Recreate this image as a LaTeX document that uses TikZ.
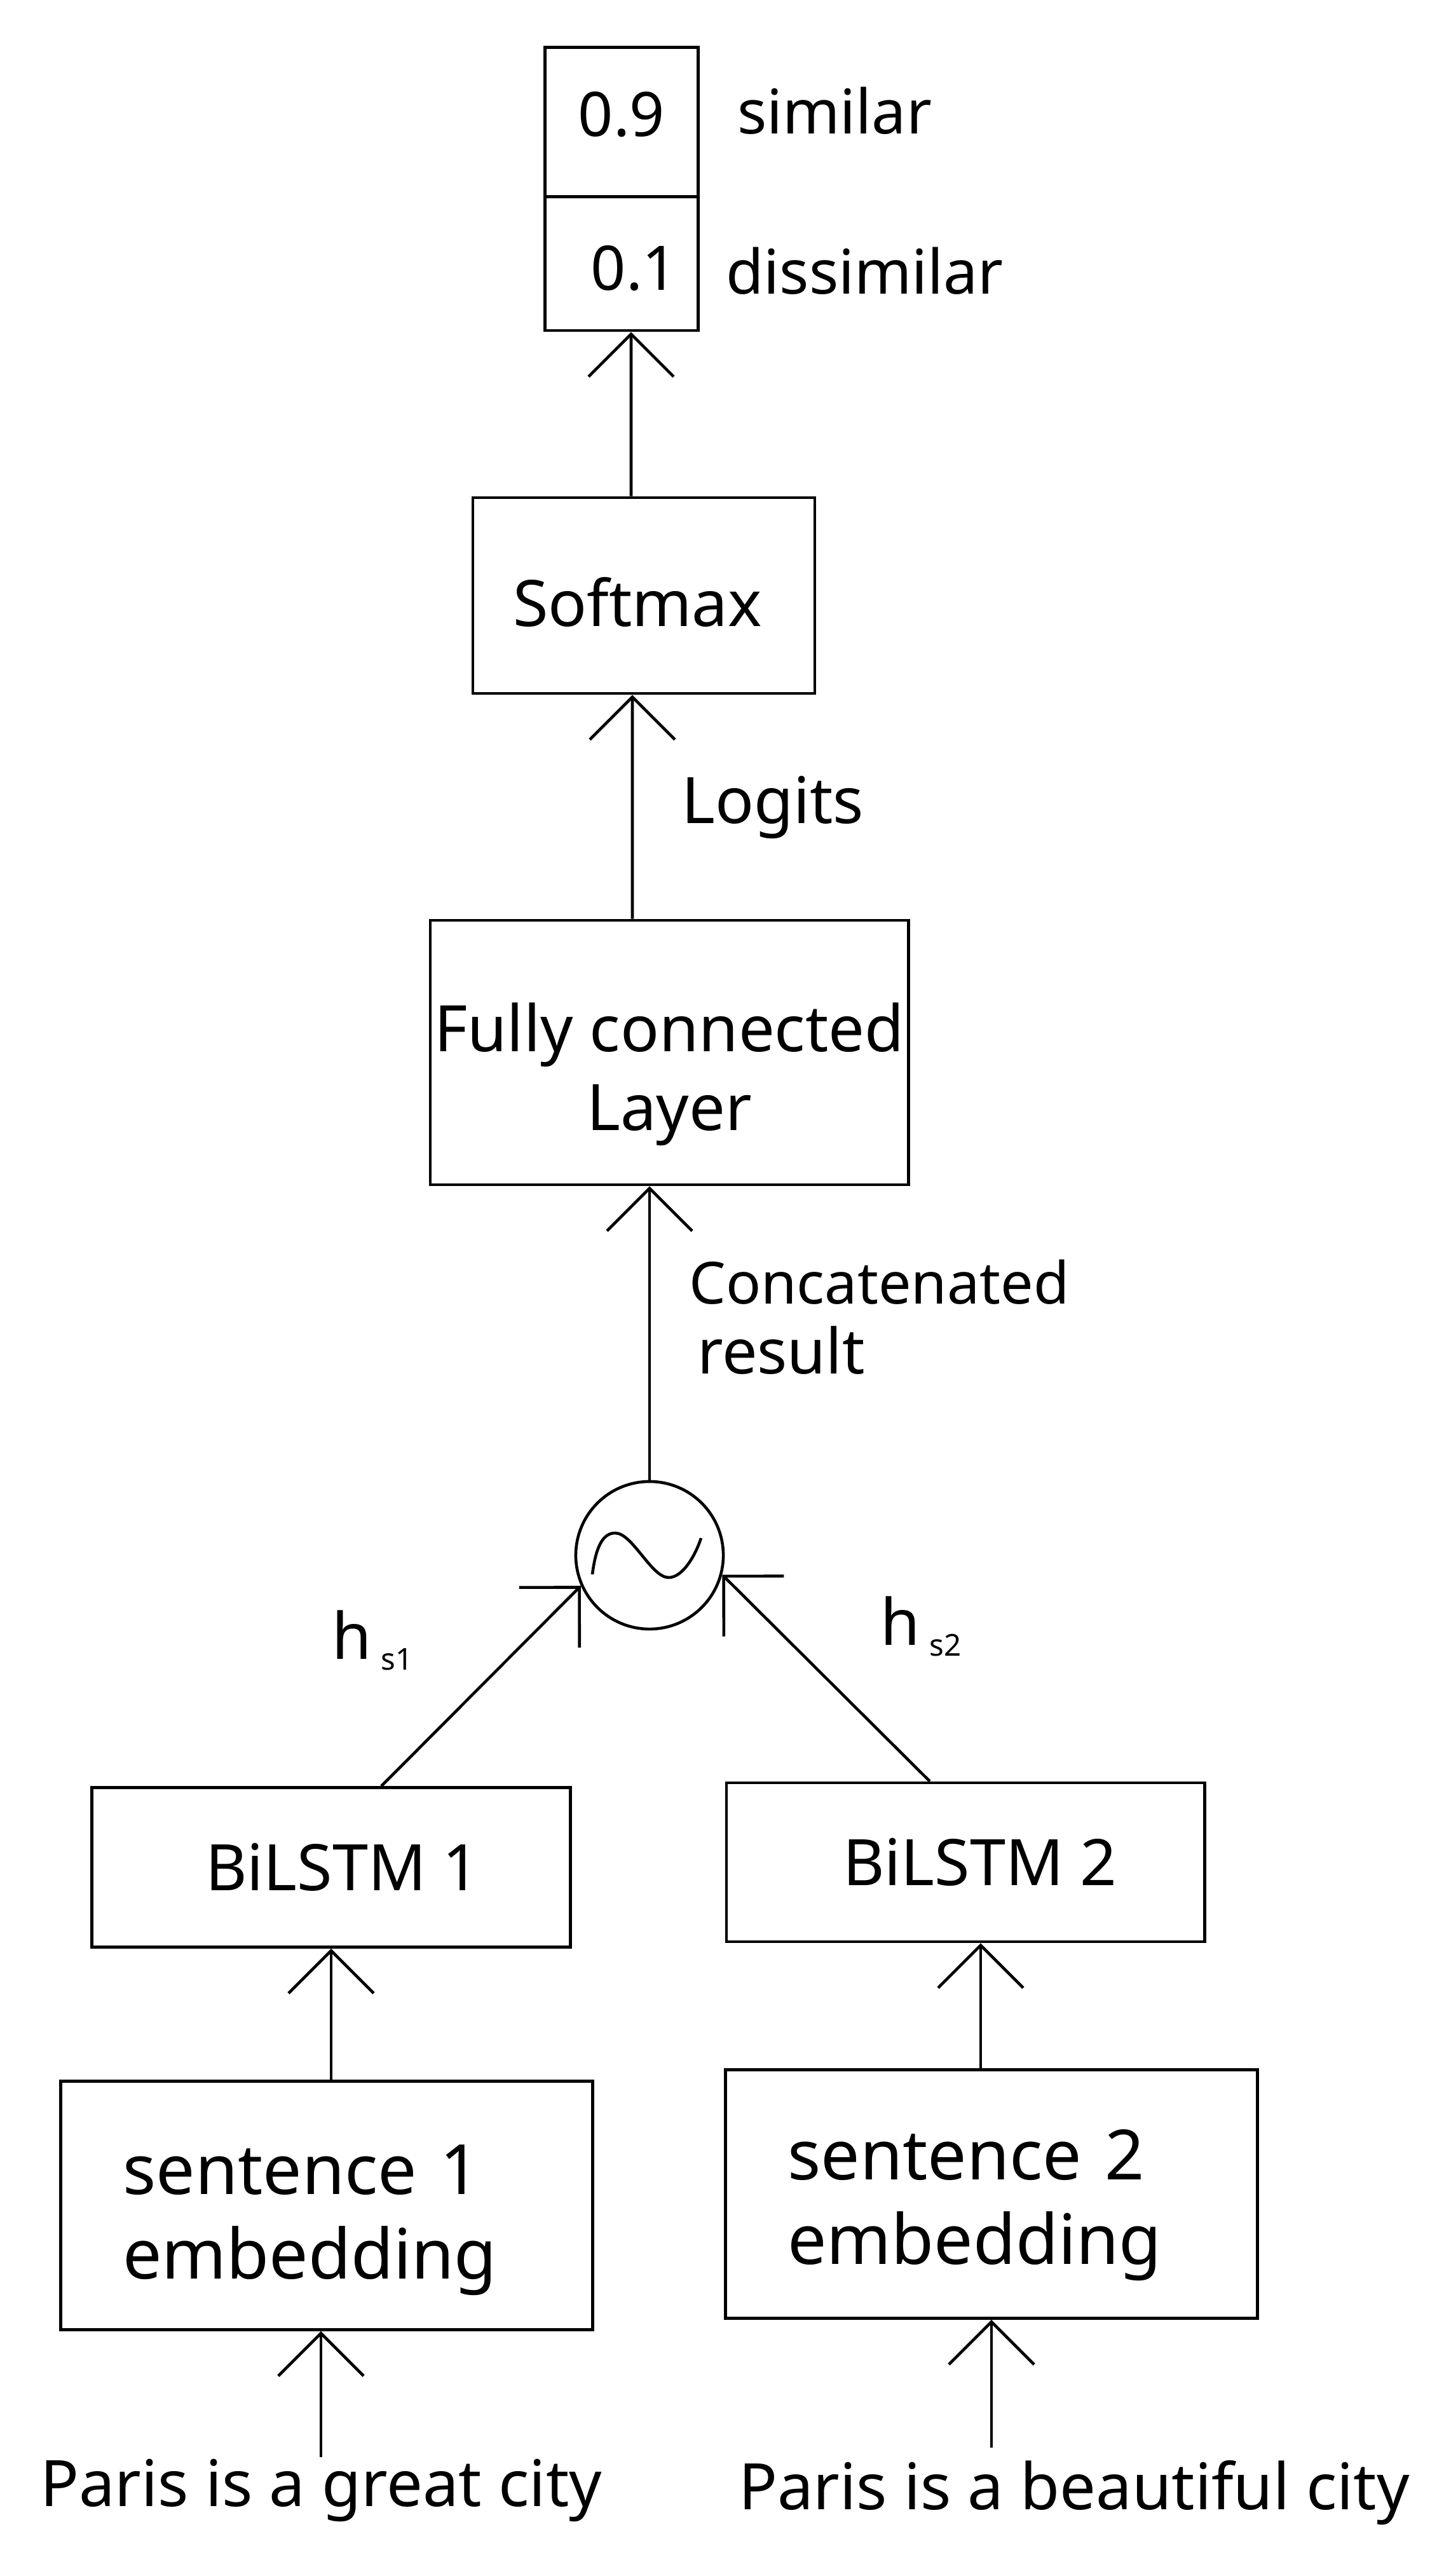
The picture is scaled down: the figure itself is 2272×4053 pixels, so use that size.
\documentclass[tikz,border=0pt]{standalone}
\usepackage{fontspec}
\setmainfont{Noto Sans}
\usetikzlibrary{arrows.meta,positioning}

\begin{document}
\begin{tikzpicture}[x=0.01cm, y=-0.01cm, line width=1.3pt,
  >={Straight Barb[length=6.7mm,width=13.4mm]},
  every node/.style={font=\fontsize{28.7pt}{35.3pt}\selectfont, inner sep=0pt},
  box/.style={draw},
  sent/.style={draw, align=left, text width=6.41cm, inner xsep=0.98cm,
    minimum height=3.91cm, font=\fontsize{31pt}{38pt}\selectfont},
  lbl/.style={anchor=base west},
  prob/.style={font=\fontsize{27.5pt}{33pt}\selectfont}]
  \useasboundingbox (0,0) rectangle (2272,4053);
  \node[box, prob, minimum width=2.41cm, minimum height=2.35cm] (p1) at (978,192) {\rule[-0.26cm]{0pt}{0.26cm}0.9};
  \node[box, prob, minimum width=2.41cm, minimum height=2.10cm] (p2) at (978,415) {\rule{0pt}{0.85cm}\hspace*{0.4cm}0.1};
  \node[lbl, prob] (sim) at (1158,210) {similar};
  \node[lbl, prob] (dis) at (1140,462) {dissimilar};
  \node[box, minimum width=5.38cm, minimum height=3.08cm] (soft) at (1013,937) {\rule{0pt}{0.97cm}Softmax\hspace*{0.2cm}};
  \node[box, align=center, minimum width=7.52cm, minimum height=4.16cm] (fc) at (1053,1656) {\rule{0pt}{1.45cm}Fully connected\\Layer};
  \node[draw, circle, minimum size=2.32cm] (mix) at (1022,2447) {};
  \draw (932,2477) .. controls (938,2430) and (950,2412) .. (968,2412)
    .. controls (995,2412) and (1025,2482) .. (1052,2482)
    .. controls (1075,2482) and (1095,2445) .. (1103,2420);
  \node[box, minimum width=7.52cm, minimum height=2.51cm] (bl1) at (521,2938) {\hspace*{0.36cm}BiLSTM 1};
  \node[box, minimum width=7.52cm, minimum height=2.50cm] (bl2) at (1519,2930) {\hspace*{0.46cm}BiLSTM 2};
  \node[sent] (s1) at (514,3470) {\rule{0pt}{1.24cm}sentence 1\\embedding};
  \node[sent] (s2) at (1560,3452) {\rule{0pt}{1.14cm}sentence 2\\embedding};
  \node[anchor=base] (in1) at (505,3943) {Paris is a great city};
  \node[anchor=base] (in2) at (1690,3948) {Paris is a beautiful city};
  \node[lbl] (logits) at (1070,1295) {Logits};
  \node[anchor=north west, align=left, font=\fontsize{26pt}{31.3pt}\selectfont] (conc) at (1082,1980)
    {Concatenated\\\hspace*{0.13cm}{\fontsize{28pt}{31.3pt}\selectfont result}};
  \node[lbl] (h1) at (520,2610) {h\hspace{0.15cm}\raisebox{-0.17cm}{\fontsize{13.5pt}{14pt}\selectfont s1}};
  \node[lbl] (h2) at (1383,2588) {h\hspace{0.15cm}\raisebox{-0.17cm}{\fontsize{13.5pt}{14pt}\selectfont s2}};
  \draw[->] ([xshift=-0.2cm]soft.north) -- ([xshift=0.15cm]p2.south);
  \draw[->] ([xshift=-0.58cm]fc.north) -- ([xshift=-0.18cm]soft.south);
  \draw[->] (mix.north) -- (mix.north |- fc.south);
  \draw[->] ([xshift=0.79cm]bl1.north) -- (mix.204);
  \draw[->] ([xshift=-0.56cm]bl2.north) -- (mix.-15);
  \draw[->] (s1.north -| bl1.south) -- (bl1.south);
  \draw[->] ([xshift=-0.17cm]s2.north) -- ([xshift=-0.17cm]s2.north |- bl2.south);
  \draw[->] (in1.north) -- (in1.north |- s1.south);
  \draw[->] ([yshift=0.18cm]in2.north -| s2.south) -- (s2.south);
\end{tikzpicture}
\end{document}
